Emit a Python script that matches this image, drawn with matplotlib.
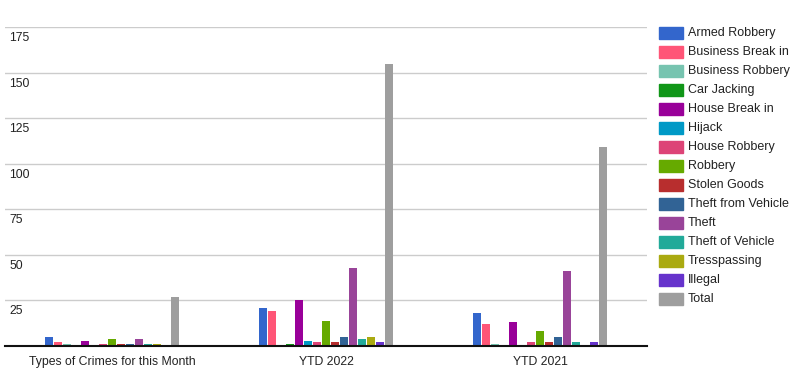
import matplotlib.pyplot as plt
from matplotlib.patches import Rectangle

plt.rcParams['font.family'] = ['Liberation Sans', 'DejaVu Sans']

# categorias y series
groups = ['Types of Crimes for this Month', 'YTD 2022', 'YTD 2021']
crimes = ['Armed Robbery', 'Business Break in', 'Business Robbery', 'Car Jacking',
          'House Break in', 'Hijack', 'House Robbery', 'Robbery', 'Stolen Goods',
          'Theft from Vehicle', 'Theft', 'Theft of Vehicle', 'Tresspassing',
          'Illegal', 'Total']
colors = ['#3366cc', '#ff5577', '#77c4b0', '#109618', '#990099', '#0099c6',
          '#dd4477', '#66aa00', '#b82e2e', '#316395', '#994499', '#22aa99',
          '#aaaa11', '#6633cc', '#9e9e9e']

month = [5, 2, 1, 0, 3, 0, 1, 4, 1, 1, 4, 1, 1, 0, 27]
ytd_2022 = [21, 19, 0, 1, 25, 3, 2, 14, 2, 5, 43, 4, 5, 2, 155]
ytd_2021 = [18, 12, 1, 0, 13, 0, 2, 8, 2, 5, 41, 2, 0, 2, 109]

y_ticks = [25, 50, 75, 100, 125, 150, 175]

fig = plt.figure(figsize=(8, 3.81), dpi=100)
ax = fig.add_axes([5 / 800, 35 / 381, 642 / 800, 318.7 / 381])

series = [month, ytd_2022, ytd_2021]
step = 9 / 214
width = 8 / 214
for j, name in enumerate(crimes):
    vals = [s[j] for s in series]
    xs = [i + (j - 7) * step for i in range(len(groups))]
    ax.bar(xs, vals, width=width, color=colors[j], label=name, zorder=3)

ax.set_xlim(-0.5, 2.5)
ax.set_ylim(0, 175)
ax.set_yticks(y_ticks)
ax.set_yticklabels([])
ax.tick_params(axis='y', length=0)
ax.grid(axis='y', color='#cccccc', linewidth=1, zorder=0)
ax.set_xticks(range(len(groups)))
ax.set_xticklabels(groups, fontsize=8.8, color='#222222')
ax.tick_params(axis='x', length=0, pad=7)

for s in ['top', 'right', 'left']:
    ax.spines[s].set_visible(False)
ax.spines['bottom'].set_color('#111111')
ax.spines['bottom'].set_linewidth(1.5)
ax.spines['bottom'].set_zorder(4)

# etiquetas del eje y dentro del grafico
for t in y_ticks:
    ax.annotate(str(t), xy=(0, t), xycoords=('axes fraction', 'data'),
                xytext=(4, -5), textcoords='offset pixels',
                ha='left', va='top', fontsize=8.8, color='#222222')

# leyenda manual
for j, name in enumerate(crimes):
    yc = 381 - (33 + 19 * j)
    fig.add_artist(Rectangle((659 / 800, (yc - 6) / 381), 24 / 800, 12 / 381,
                             transform=fig.transFigure, color=colors[j]))
    fig.text(688 / 800, yc / 381, name, fontsize=9.0, color='#222222',
             ha='left', va='center')

plt.savefig('out.png', dpi=100)
